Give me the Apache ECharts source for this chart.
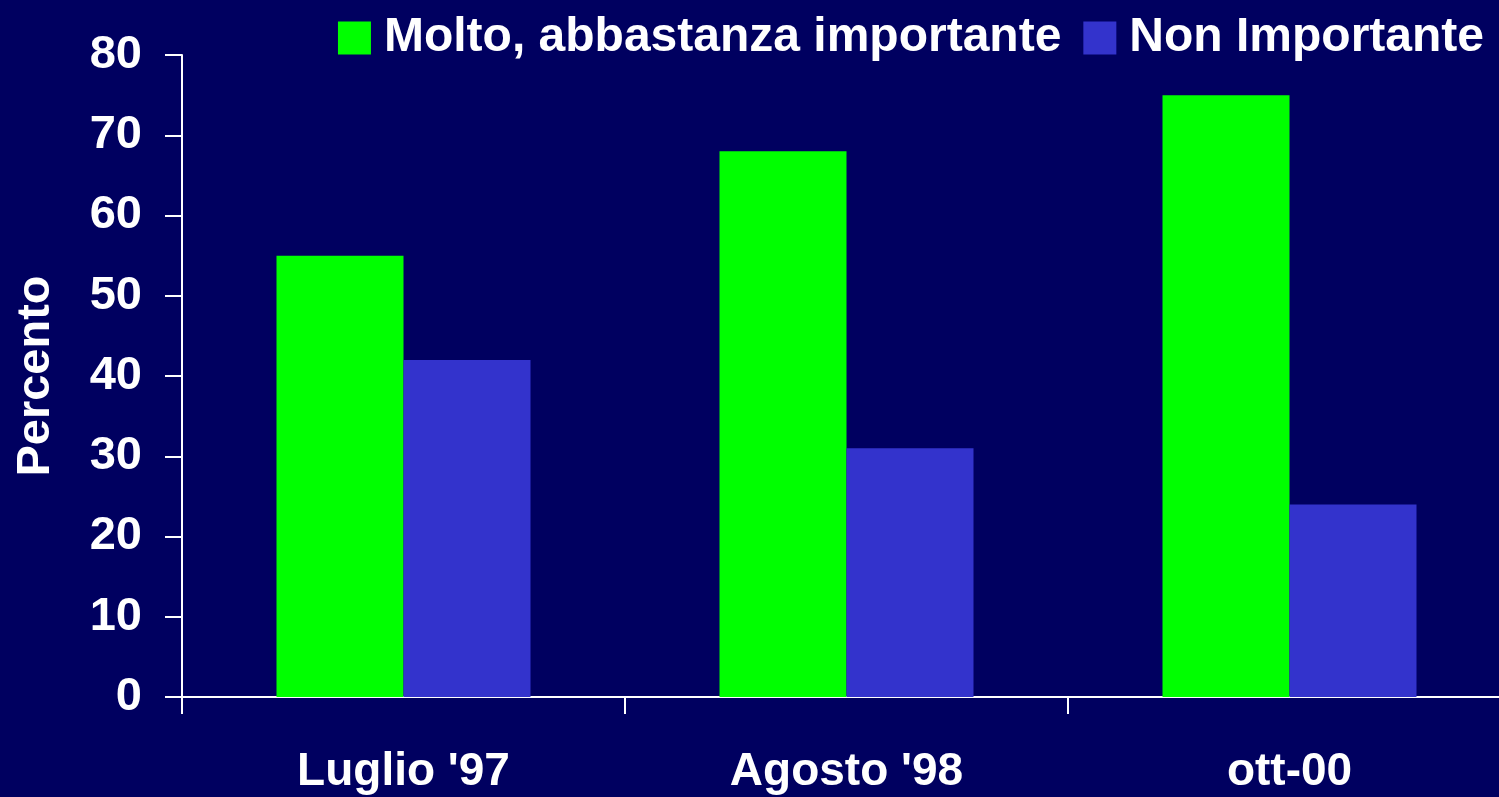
<!DOCTYPE html>
<html><head><meta charset="utf-8">
<script src="https://cdn.jsdelivr.net/npm/echarts@6/dist/echarts.min.js"></script>
<style>html,body{margin:0;padding:0;background:#000060;}#c{width:1499px;height:797px;}</style>
</head><body><div id="c"></div>
<script>
const categories = ["Luglio '97", "Agosto '98", "ott-00"];
const seriesNames = ["Molto, abbastanza importante", "Non Importante"];
const importante = [55, 68, 75];
const nonImportante = [42, 31, 24];
const yTicks = [0, 10, 20, 30, 40, 50, 60, 70, 80];

const font = '"Liberation Sans", Arial, sans-serif';
const chart = echarts.init(document.getElementById('c'), null, {renderer: 'canvas'});
chart.setOption({
  backgroundColor: '#000060',
  animation: false,
  textStyle: {fontFamily: font},
  legend: {
    right: 10, top: 9,
    itemWidth: 33, itemHeight: 33, itemGap: 22,
    icon: 'rect',
    textStyle: {color: '#ffffff', fontSize: 48, fontWeight: 'bold', fontFamily: font, padding: [0,0,0,8]},
    data: seriesNames
  },
  grid: {left: 182, top: 55, bottom: 100, right: -12, containLabel: false, outerBoundsMode: 'none'},
  xAxis: {
    type: 'category', data: categories,
    axisLine: {lineStyle: {color: '#ffffff', width: 2}},
    axisTick: {show: true, alignWithLabel: false, interval: 0, length: 17, lineStyle: {color: '#ffffff', width: 2}},
    axisLabel: {color: '#ffffff', fontSize: 46, fontWeight: 'bold', fontFamily: font, margin: 52, interval: 0}
  },
  yAxis: {
    type: 'value', min: yTicks[0], max: yTicks[yTicks.length-1], interval: 10,
    name: 'Percento', nameLocation: 'middle', nameGap: 122,
    nameTextStyle: {color: '#ffffff', fontSize: 47, fontWeight: 'bold', fontFamily: font},
    axisLine: {show: true, lineStyle: {color: '#ffffff', width: 2}},
    axisTick: {show: true, length: 17, lineStyle: {color: '#ffffff', width: 2}},
    splitLine: {show: false},
    axisLabel: {color: '#ffffff', fontSize: 47, fontWeight: 'bold', fontFamily: font, margin: 40}
  },
  series: [
    {name: seriesNames[0], type: 'bar', data: importante, barWidth: 127, barGap: '0%', itemStyle: {color: '#00ff00'}},
    {name: seriesNames[1], type: 'bar', data: nonImportante, barWidth: 127, barGap: '0%', itemStyle: {color: '#3333cc'}}
  ]
});
</script></body></html>
